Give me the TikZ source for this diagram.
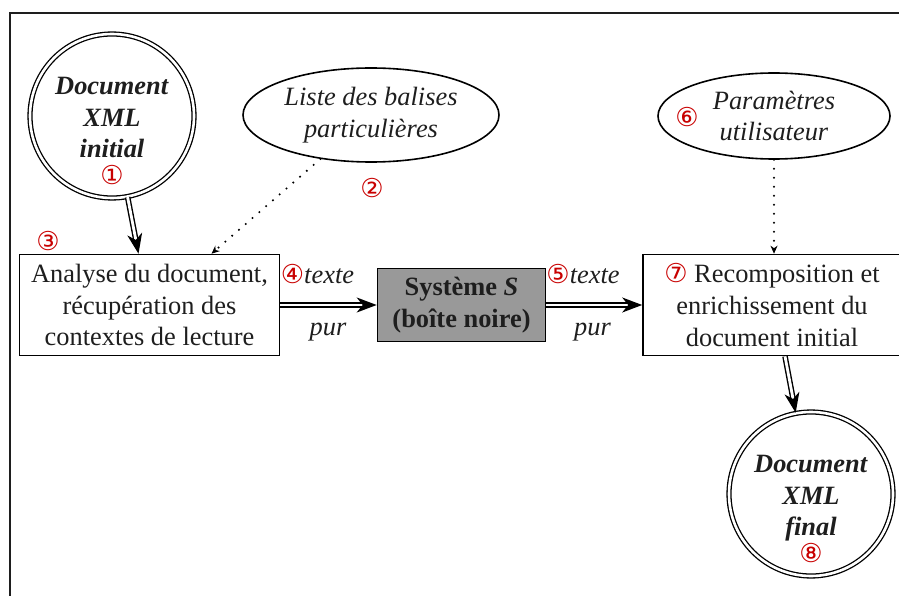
\documentclass[tikz,border=0pt]{standalone}
\usepackage{fontspec}
\setmainfont{Liberation Serif}
\newfontfamily\circfont{DejaVu Sans}
\usetikzlibrary{arrows.meta,shapes.geometric}
\definecolor{numred}{RGB}{200,0,0}
\definecolor{inkc}{RGB}{30,30,30}
\definecolor{boxgray}{RGB}{153,153,153}
\newcommand\cn[1]{{\circfont\fontsize{26}{26}\selectfont\color{numred}#1}}
\begin{document}
\begin{tikzpicture}[x=1pt,y=-1pt,
  bigfont/.style={font=\fontsize{26.4}{31.7}\selectfont, text=inkc},
  procbox/.style={draw, line width=1.6pt, rectangle, inner sep=0pt, align=center, bigfont},
  dcirc/.style={circle, draw, double, double distance=2.6pt, line width=1.3pt, minimum size=164pt, inner sep=0pt},
  oval/.style={ellipse, draw, line width=1.6pt, inner sep=0pt, align=center, bigfont},
  dbl/.style={double, double distance=2.8pt, line width=1.4pt, -{Stealth[length=20pt,width=15pt,inset=6pt]}},
  dotarr/.style={line width=2.3pt, dash pattern=on 0pt off 9pt, line cap=round, -{Stealth[length=8pt,width=7pt,inset=2.5pt,line width=1pt]}},
  numlab/.style={inner sep=0pt},
  lbl/.style={inner sep=0pt, bigfont, anchor=base}
]
\useasboundingbox (0,0) rectangle (899,596);
\clip (0,0) rectangle (899,596);
\draw[line width=2pt, inkc] (10,13) rectangle (930,630);

% nodes
\node[dcirc] (c1) at (112,116) {};
\node[align=center, inner sep=0pt, bigfont] (t1) at ([yshift=-15pt]c1.center)
  {\textbf{\textit{Document}}\\\textbf{\textit{XML}}\\\textbf{\textit{initial}}\\[-5pt]\cn{①}};

\node[oval, minimum width=256pt, minimum height=94pt] (L) at (371,115)
  {\textit{Liste des balises}\\\textit{particulières}};

\node[oval, minimum width=232pt, minimum height=86pt] (P) at (774,116)
  {\textit{Paramètres}\\\textit{utilisateur}};

\node[procbox, minimum width=260pt, minimum height=101pt] (ana) at (149.5,305)
  {Analyse du document,\\récupération des\\contextes de lecture};

\node[procbox, fill=boxgray, minimum width=168pt, minimum height=73pt] (sys) at (461.5,305)
  {\textbf{Système \textit{S}}\\\textbf{(boîte noire)}};

\node[procbox, minimum width=258pt, minimum height=101pt] (b7) at (772,305)
  {\cn{⑦} Recomposition et\\enrichissement du\\document initial};

\node[dcirc] (c8) at (811,494) {};
\node[align=center, inner sep=0pt, bigfont] (t8) at ([yshift=-15pt]c8.center)
  {\textbf{\textit{Document}}\\\textbf{\textit{XML}}\\\textbf{\textit{final}}\\[-5pt]\cn{⑧}};

% number labels
\node[numlab] (n2) at (372,188) {\cn{②}};
\node[numlab] (n3) at (48,241) {\cn{③}};
\node[numlab] (n6) at (687,117) {\cn{⑥}};

\node[lbl] (l4) at (317.5,283) {\cn{④}\textit{texte}};
\node[lbl] (p4) at (328,335) {\textit{pur}};
\node[lbl] (l5) at (583,283) {\cn{⑤}\textit{texte}};
\node[lbl] (p5) at (592.5,335) {\textit{pur}};

% connectors
\draw[dbl] (c1) -- ([xshift=-11pt]ana.north);
\draw[dotarr] (L) -- ([xshift=62pt]ana.north);
\draw[dbl] (ana.east) -- (sys.west);
\draw[dbl] (sys.east) -- (b7.west);
\draw[dotarr] (P.south) -- (P.south |- b7.north);
\draw[dbl] ([xshift=13pt]b7.south) -- (c8);
\end{tikzpicture}
\end{document}
